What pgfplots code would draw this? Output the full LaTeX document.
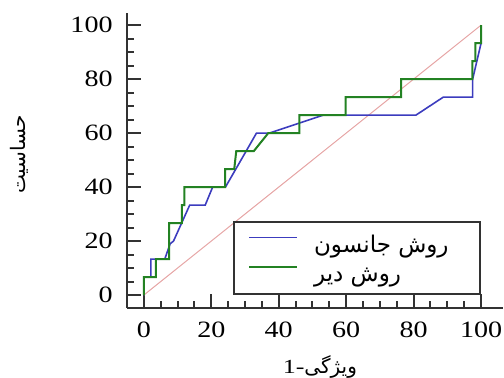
\documentclass[border=0pt]{standalone}
\usepackage{pgfplots}
\pgfplotsset{compat=1.18}
\usepackage{fontspec}
\setmainfont{Liberation Serif}
\newfontfamily\arabicfont[Script=Arabic]{DejaVu Sans}
\TeXXeTstate=1
\definecolor{jblue}{RGB}{60,60,190}
\definecolor{dgreen}{RGB}{35,130,35}
\definecolor{diagpink}{RGB}{230,165,165}
\definecolor{axgray}{RGB}{50,50,50}
\newcommand{\legtext}[1]{\makebox[76pt][l]{\rule[-4.5pt]{0pt}{15pt}{\arabicfont\beginR #1\endR}}}

\begin{document}
\begin{tikzpicture}
\begin{axis}[
  name=ax,
  scale only axis, width=188pt, height=147.5pt,
  xmin=-5, xmax=106.5, ymin=-4.8, ymax=104.5,
  axis lines=left,
  axis line style={-, line width=1.2pt, draw=axgray},
  xtick={0,20,40,60,80,100}, ytick={0,20,40,60,80,100},
  minor xtick={5,10,15,25,30,35,45,50,55,65,70,75,85,90,95},
  minor ytick={5,10,15,25,30,35,45,50,55,65,70,75,85,90,95},
  tick align=inside,
  major tick length=7pt, minor tick length=3.6pt,
  tick style={line width=1pt, draw=axgray},
  /pgf/number format/assume math mode=true,
  ticklabel style={font=\fontsize{11.7}{14}\selectfont, inner sep=0pt},
  xticklabel={\scalebox{1.2}[1]{\pgfmathprintnumber{\tick}}},
  yticklabel={\scalebox{1.2}[1]{\pgfmathprintnumber{\tick}}},
  yticklabel style={xshift=-7pt},
  xticklabel style={yshift=-7pt},
  xlabel={\scalebox{1.3}[1]{1-}{\arabicfont\beginR ویژگی\endR}},
  ylabel={{\arabicfont\beginR حساسیت\endR}},
  xlabel style={font=\fontsize{12}{14}\selectfont},
  ylabel style={font=\fontsize{11}{13}\selectfont},
  every axis x label/.style={at={(axis description cs:0.513,-0.2)}, anchor=center},
  every axis y label/.style={at={(axis description cs:-0.285,0.52)}, rotate=90, anchor=center},
  legend style={at={(axis description cs:0.9417,0.0439)}, anchor=south east,
    draw=axgray, line width=1pt, fill=white, inner xsep=7pt, inner ysep=4.75pt,
    row sep=2.5pt, column sep=8pt, nodes={inner sep=0pt},
    font=\fontsize{11.5}{14}\selectfont},
  legend cell align=left,
  legend image code/.code={\draw[#1] (0pt,3pt) -- (24pt,3pt);},
]
\addplot[diagpink, line width=0.5pt, forget plot] coordinates {(0,0) (100,100)};
\addplot[jblue, line width=0.8pt] coordinates {
(0,0) (0,6.67) (2.1,6.67) (2.1,13.33) (6.2,13.33) (7.8,19) (8.8,20)
(13.6,33.33) (18.2,33.33) (20.4,40) (24.2,40) (33.4,60) (37.2,60)
(53.2,66.67) (80.7,66.67) (88.8,73.33) (97.5,73.33) (97.5,80) (100,93.33) (100,100)};
\addlegendentry{\legtext{روش جانسون}}
\addplot[dgreen, line width=1pt] coordinates {
(0,0) (0,6.67) (3.6,6.67) (3.6,13.33) (7.5,13.33) (7.5,26.67) (11.3,26.67)
(11.3,33.33) (12,33.33) (12,40) (24.1,40) (24.1,46.67) (26.8,46.67) (27.4,53.33)
(32.6,53.33) (36.9,60) (46.1,60) (46.1,66.67) (59.8,66.67) (59.8,73.33)
(76.3,73.33) (76.3,80) (97.4,80) (97.4,86.67) (98.3,86.67) (98.3,93.33)
(100,93.33) (100,100)};
\addlegendentry{\legtext{روش دیر}}
\end{axis}
\pgfresetboundingbox
\path ([xshift=-63.5pt,yshift=-35pt]ax.south west) rectangle ([xshift=0.5pt,yshift=6.5pt]ax.north east);
\end{tikzpicture}
\end{document}
